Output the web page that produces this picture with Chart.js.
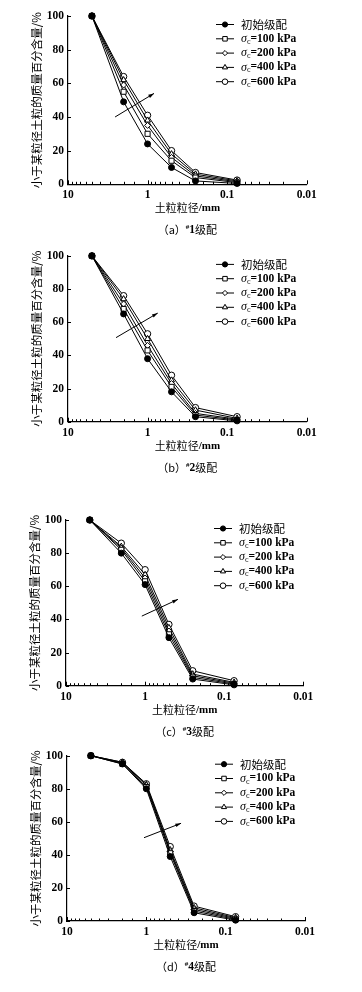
<!DOCTYPE html>
<html>
<head>
<meta charset="utf-8">
<script src="https://cdn.jsdelivr.net/npm/chart.js@4.4.0/dist/chart.umd.min.js"></script>
<style>
  html, body { margin: 0; padding: 0; background: #fff; }
  body { width: 362px; height: 992px; position: relative; overflow: hidden; }
  .panel { position: absolute; left: 0; width: 362px; }
</style>
</head>
<body>
<div class="panel" style="top:0px"><canvas id="chartA" width="362" height="240"></canvas></div>
<div class="panel" style="top:245px"><canvas id="chartB" width="362" height="240"></canvas></div>
<div class="panel" style="top:495px"><canvas id="chartC" width="362" height="245"></canvas></div>
<div class="panel" style="top:742px"><canvas id="chartD" width="362" height="250"></canvas></div>
<script>
// Dane: średnice sit (mm) i procent przechodzący
const sieveSizes = [5, 2, 1, 0.5, 0.25, 0.075];
const pressures = [100, 200, 400, 600];

const xTickValues = [10, 1, 0.1, 0.01];
const xTickLabels = ['10', '1', '0.1', '0.01'];
const yTickValues = [0, 20, 40, 60, 80, 100];

// #1 级配
const g1Initial = [100, 49, 24, 10, 2, 0.5];
const g1S100 = [100, 55, 30, 14, 4, 1];
const g1S200 = [100, 59, 35, 16, 5, 1.5];
const g1S400 = [100, 62, 38, 18, 6, 2];
const g1S600 = [100, 64, 41, 20, 7, 2.5];

// #2 级配
const g2Initial = [100, 65, 38, 18, 3, 0.5];
const g2S100 = [100, 68, 43, 21, 4, 1];
const g2S200 = [100, 71, 46, 23, 5, 1.5];
const g2S400 = [100, 74, 50, 25, 7, 2];
const g2S600 = [100, 76, 53, 28, 8.5, 3];

// #3 级配
const g3Initial = [100, 80, 61, 29, 4, 0.5];
const g3S100 = [100, 82, 63, 31, 5, 1];
const g3S200 = [100, 83, 65, 33, 6, 1.5];
const g3S400 = [100, 84, 67, 35, 7, 2];
const g3S600 = [100, 86, 70, 37, 9, 3];

// #4 级配
const g4Initial = [100, 95, 80, 39, 5, 0.5];
const g4S100 = [100, 95, 81, 41, 6, 1];
const g4S200 = [100, 95.5, 82, 42, 7, 1.5];
const g4S400 = [100, 96, 82.5, 43, 8, 2];
const g4S600 = [100, 96, 83, 45, 9, 2.6];

const initialLabel = '初始级配';
const yTitle = '小于某粒径土粒的质量百分含量/%';
const xTitle = '土粒粒径/mm';

const serif = '"Liberation Serif", "Noto Sans CJK SC", serif';
const cjk = '"Noto Sans CJK SC", sans-serif';

// Style serii: kropka pełna, kwadrat, romb, trójkąt, kółko
const seriesStyles = [
  { pointStyle: 'circle', radius: 3, fill: '#000' },
  { pointStyle: 'rect', radius: 3.6, fill: '#fff' },
  { pointStyle: 'rectRot', radius: 3, fill: '#fff' },
  { pointStyle: 'triangle', radius: 3.4, fill: '#fff' },
  { pointStyle: 'circle', radius: 3.2, fill: '#fff' }
];

function drawParts(ctx, parts, x, y, align) {
  let total = 0;
  parts.forEach(p => { ctx.font = p.font; p.w = ctx.measureText(p.text).width; total += p.w; });
  let cx = align === 'center' ? x - total / 2 : x;
  ctx.textAlign = 'left';
  parts.forEach(p => {
    ctx.font = p.font;
    ctx.fillText(p.text, cx, y + (p.dy || 0));
    cx += p.w;
  });
}

function sigmaParts(p) {
  return [
    { text: 'σ', font: 'italic 12px ' + serif },
    { text: 'c', font: '8px ' + serif, dy: 3 },
    { text: '=' + p + ' kPa', font: 'bold 11.5px ' + serif }
  ];
}

// Plugin: ticki do środka, strzałka, legenda, tytuły osi i podpis
const decorPlugin = {
  id: 'decor',
  afterDraw(chart, args, opts) {
    const ctx = chart.ctx;
    const area = chart.chartArea;
    const xs = chart.scales.x;
    const ys = chart.scales.y;
    ctx.save();
    ctx.strokeStyle = '#000';
    ctx.fillStyle = '#000';
    ctx.lineWidth = 1;

    // ticki osi x
    xs.ticks.forEach(t => {
      const px = Math.round(xs.getPixelForValue(t.value)) + 0.5;
      const lg = Math.log10(t.value);
      const major = Math.abs(lg - Math.round(lg)) < 1e-6;
      const len = major ? 4 : 2.5;
      ctx.beginPath();
      ctx.moveTo(px, area.bottom);
      ctx.lineTo(px, area.bottom - len);
      ctx.stroke();
    });
    // ticki osi y
    yTickValues.forEach(v => {
      const py = Math.round(ys.getPixelForValue(v)) + 0.5;
      ctx.beginPath();
      ctx.moveTo(area.left, py);
      ctx.lineTo(area.left + 3, py);
      ctx.stroke();
    });

    // strzałka
    const a = opts.arrow;
    const x0 = xs.getPixelForValue(a[0]), y0 = ys.getPixelForValue(a[1]);
    const x1 = xs.getPixelForValue(a[2]), y1 = ys.getPixelForValue(a[3]);
    ctx.beginPath();
    ctx.moveTo(x0, y0);
    ctx.lineTo(x1, y1);
    ctx.stroke();
    const ang = Math.atan2(y1 - y0, x1 - x0);
    ctx.beginPath();
    ctx.moveTo(x1, y1);
    ctx.lineTo(x1 - 6 * Math.cos(ang - 0.3), y1 - 6 * Math.sin(ang - 0.3));
    ctx.lineTo(x1 - 6 * Math.cos(ang + 0.3), y1 - 6 * Math.sin(ang + 0.3));
    ctx.closePath();
    ctx.fill();

    // legenda
    const lx = area.left + 148;
    ctx.textBaseline = 'middle';
    seriesStyles.forEach((st, i) => {
      const ly = area.top + 8.5 + i * 14.3;
      ctx.strokeStyle = '#000';
      ctx.lineWidth = 1;
      ctx.beginPath();
      ctx.moveTo(lx, ly);
      ctx.lineTo(lx + 18, ly);
      ctx.stroke();
      ctx.fillStyle = st.fill;
      Chart.helpers.drawPoint(ctx, { pointStyle: st.pointStyle, radius: st.radius - 0.4, borderWidth: 1, rotation: 0 }, lx + 9, ly);
      ctx.fillStyle = '#000';
      if (i === 0) {
        drawParts(ctx, [{ text: initialLabel, font: '11.5px ' + cjk }], lx + 25, ly, 'left');
      } else {
        drawParts(ctx, sigmaParts(pressures[i - 1]), lx + 25, ly, 'left');
      }
    });

    // tytuł osi y
    ctx.save();
    ctx.translate(area.left - 31, (area.top + area.bottom) / 2);
    ctx.rotate(-Math.PI / 2);
    ctx.font = '11.5px ' + cjk;
    ctx.textAlign = 'center';
    ctx.fillText(yTitle, 0, 0);
    ctx.restore();

    // tytuł osi x i podpis
    const cxm = (area.left + area.right) / 2;
    drawParts(ctx, [
      { text: '土粒粒径', font: '11px ' + cjk },
      { text: '/mm', font: 'bold 11px ' + serif }
    ], cxm, area.bottom + 24, 'center');
    drawParts(ctx, [
      { text: '（' + opts.letter + '）', font: '11px ' + cjk },
      { text: '#', font: 'bold 7px ' + serif, dy: -3 },
      { text: opts.num, font: 'bold 11.5px ' + serif },
      { text: '级配', font: '11px ' + cjk }
    ], cxm, area.bottom + 46, 'center');

    ctx.restore();
  }
};

function makeChart(canvasId, series, box, arrow, letter, num) {
  const el = document.getElementById(canvasId);
  const W = el.width, H = el.height;
  const xAxisH = 22;
  const datasets = series.map((vals, i) => ({
    label: i === 0 ? initialLabel : 'σc=' + pressures[i - 1] + ' kPa',
    data: sieveSizes.map((s, k) => ({ x: s, y: vals[k] })),
    showLine: true,
    borderColor: '#000',
    borderWidth: 1,
    pointStyle: seriesStyles[i].pointStyle,
    pointRadius: seriesStyles[i].radius,
    pointBackgroundColor: seriesStyles[i].fill,
    pointBorderColor: '#000',
    pointBorderWidth: 1,
    clip: false
  }));
  // rysowanie: otwarte kółka na wierzchu
  return new Chart(el, {
    type: 'scatter',
    data: { datasets },
    options: {
      responsive: false,
      animation: false,
      layout: {
        padding: { left: 0, top: box.top, right: W - box.right, bottom: H - box.bottom - xAxisH }
      },
      plugins: {
        legend: { display: false },
        tooltip: { enabled: false },
        decor: { arrow, letter, num }
      },
      scales: {
        x: {
          type: 'logarithmic',
          reverse: true,
          min: 0.01,
          max: 10,
          grid: { display: false, drawTicks: false },
          border: { display: true, color: '#000', width: 1.2 },
          ticks: {
            autoSkip: false,
            maxRotation: 0,
            padding: 4,
            color: '#000',
            font: { family: serif, size: 11.5, weight: 'bold' },
            callback: function(value) {
              const idx = xTickValues.findIndex(v => Math.abs(v - value) / v < 1e-6);
              return idx >= 0 ? xTickLabels[idx] : '';
            }
          },
          afterFit: s => { s.height = xAxisH; }
        },
        y: {
          min: 0,
          max: 100,
          grid: { display: false, drawTicks: false },
          border: { display: true, color: '#000', width: 1.2 },
          ticks: {
            stepSize: 20,
            padding: 4,
            color: '#000',
            font: { family: serif, size: 11.5, weight: 'bold' }
          },
          afterFit: s => { s.width = box.left; }
        }
      }
    },
    plugins: [decorPlugin]
  });
}

document.addEventListener('DOMContentLoaded', function() {
  makeChart('chartA', [g1Initial, g1S100, g1S200, g1S400, g1S600],
    { left: 68, top: 16, right: 306.7, bottom: 184.3 }, [2.56, 40, 0.83, 54], 'a', '1');
  makeChart('chartB', [g2Initial, g2S100, g2S200, g2S400, g2S600],
    { left: 68, top: 10.3, right: 306.7, bottom: 176.7 }, [2.49, 50.7, 0.745, 65.5], 'b', '2');
  makeChart('chartC', [g3Initial, g3S100, g3S200, g3S400, g3S600],
    { left: 66, top: 25, right: 303.3, bottom: 190.7 }, [1.1, 42, 0.384, 52.1], 'c', '3');
  makeChart('chartD', [g4Initial, g4S100, g4S200, g4S400, g4S600],
    { left: 67, top: 13.7, right: 305, bottom: 179 }, [1.07, 50.4, 0.365, 59.1], 'd', '4');
});
</script>
</body>
</html>
